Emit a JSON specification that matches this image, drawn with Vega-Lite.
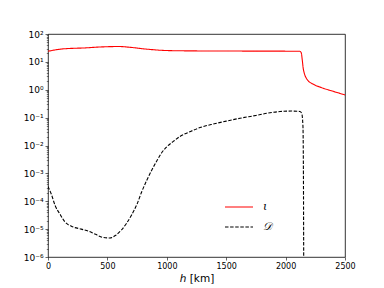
{
  "$schema": "https://vega.github.io/schema/vega-lite/v6.json",
  "width": 297,
  "height": 223,
  "autosize": {"type": "none"},
  "padding": {"left": 48, "top": 34, "right": 39, "bottom": 31},
  "config": {
    "font": "DejaVu Sans",
    "view": {"stroke": "#000000", "strokeWidth": 0.8},
    "axis": {"grid": false, "domain": false, "tickColor": "#000000", "labelColor": "#000000", "titleColor": "#000000", "labelFontSize": 8, "tickWidth": 0.6}
  },
  "datasets": {
    "lines": [
      {"h": 0, "v": 24, "s": "ι"},
      {"h": 100, "v": 28.5, "s": "ι"},
      {"h": 200, "v": 30.5, "s": "ι"},
      {"h": 300, "v": 31.5, "s": "ι"},
      {"h": 400, "v": 33.5, "s": "ι"},
      {"h": 500, "v": 35, "s": "ι"},
      {"h": 600, "v": 35.5, "s": "ι"},
      {"h": 700, "v": 33, "s": "ι"},
      {"h": 800, "v": 29.5, "s": "ι"},
      {"h": 900, "v": 27, "s": "ι"},
      {"h": 1000, "v": 25.5, "s": "ι"},
      {"h": 1200, "v": 24.8, "s": "ι"},
      {"h": 1500, "v": 24.5, "s": "ι"},
      {"h": 1800, "v": 24.3, "s": "ι"},
      {"h": 2000, "v": 24.2, "s": "ι"},
      {"h": 2120, "v": 24, "s": "ι"},
      {"h": 2132, "v": 21, "s": "ι"},
      {"h": 2140, "v": 12, "s": "ι"},
      {"h": 2148, "v": 6, "s": "ι"},
      {"h": 2158, "v": 3.8, "s": "ι"},
      {"h": 2170, "v": 2.8, "s": "ι"},
      {"h": 2190, "v": 2.1, "s": "ι"},
      {"h": 2230, "v": 1.6, "s": "ι"},
      {"h": 2300, "v": 1.2, "s": "ι"},
      {"h": 2400, "v": 0.88, "s": "ι"},
      {"h": 2500, "v": 0.65, "s": "ι"},
      {"h": 0, "v": 0.00034, "s": "𝒟"},
      {"h": 30, "v": 0.00017, "s": "𝒟"},
      {"h": 60, "v": 0.00007, "s": "𝒟"},
      {"h": 100, "v": 0.000035, "s": "𝒟"},
      {"h": 143, "v": 0.000018, "s": "𝒟"},
      {"h": 200, "v": 0.0000125, "s": "𝒟"},
      {"h": 280, "v": 0.00001, "s": "𝒟"},
      {"h": 340, "v": 0.0000085, "s": "𝒟"},
      {"h": 400, "v": 0.0000065, "s": "𝒟"},
      {"h": 466, "v": 0.000005, "s": "𝒟"},
      {"h": 520, "v": 0.0000048, "s": "𝒟"},
      {"h": 570, "v": 0.000006, "s": "𝒟"},
      {"h": 620, "v": 0.0000095, "s": "𝒟"},
      {"h": 660, "v": 0.000016, "s": "𝒟"},
      {"h": 705, "v": 0.000033, "s": "𝒟"},
      {"h": 750, "v": 0.00008, "s": "𝒟"},
      {"h": 789, "v": 0.00022, "s": "𝒟"},
      {"h": 830, "v": 0.00055, "s": "𝒟"},
      {"h": 873, "v": 0.0013, "s": "𝒟"},
      {"h": 920, "v": 0.003, "s": "𝒟"},
      {"h": 957, "v": 0.0055, "s": "𝒟"},
      {"h": 1000, "v": 0.009, "s": "𝒟"},
      {"h": 1055, "v": 0.014, "s": "𝒟"},
      {"h": 1110, "v": 0.021, "s": "𝒟"},
      {"h": 1200, "v": 0.032, "s": "𝒟"},
      {"h": 1280, "v": 0.044, "s": "𝒟"},
      {"h": 1400, "v": 0.06, "s": "𝒟"},
      {"h": 1500, "v": 0.075, "s": "𝒟"},
      {"h": 1616, "v": 0.095, "s": "𝒟"},
      {"h": 1750, "v": 0.12, "s": "𝒟"},
      {"h": 1850, "v": 0.145, "s": "𝒟"},
      {"h": 1953, "v": 0.165, "s": "𝒟"},
      {"h": 2050, "v": 0.172, "s": "𝒟"},
      {"h": 2120, "v": 0.166, "s": "𝒟"},
      {"h": 2136, "v": 0.14, "s": "𝒟"},
      {"h": 2146, "v": 0.05, "s": "𝒟"},
      {"h": 2150, "v": 0.001, "s": "𝒟"},
      {"h": 2153, "v": 0.0000001, "s": "𝒟"}
    ]
  },
  "data": {"name": "lines"},
  "layer": [
    {
      "mark": {"type": "line", "clip": true, "strokeWidth": 1.1, "interpolate": "monotone"},
      "encoding": {
        "x": {
          "field": "h", "type": "quantitative",
          "scale": {"domain": [0, 2500], "nice": false, "zero": false},
          "axis": {"values": [0, 500, 1000, 1500, 2000, 2500], "format": "d", "title": "ℎ [km]", "titleFontSize": 10.5, "titleFontWeight": "normal", "titlePadding": 3, "tickSize": 3, "labelPadding": 2, "labelFlush": false}
        },
        "y": {
          "field": "v", "type": "quantitative",
          "scale": {"type": "log", "domain": [0.000001, 100], "nice": false},
          "axis": {
            "values": [0.000001, 0.00001, 0.0001, 0.001, 0.01, 0.1, 1, 10, 100],
            "labelExpr": "['10⁻⁶','10⁻⁵','10⁻⁴','10⁻³','10⁻²','10⁻¹','10⁰','10¹','10²'][round(log(datum.value)/LN10)+6]",
            "labelFontSize": 9,
            "title": null, "tickSize": 3, "labelPadding": 2, "labelFlush": false
          }
        },
        "color": {
          "field": "s", "type": "nominal",
          "scale": {"domain": ["ι", "𝒟"], "range": ["#ff0000", "#000000"]},
          "legend": {"title": null, "orient": "none", "legendX": 176, "legendY": 158, "symbolType": "stroke", "symbolSize": 784, "symbolStrokeWidth": 1.1, "labelFontSize": 11, "labelOffset": 9, "rowPadding": -8, "labelFont": "DejaVu Serif", "labelFontStyle": "italic"}
        },
        "strokeDash": {
          "field": "s", "type": "nominal",
          "scale": {"domain": ["ι", "𝒟"], "range": [[1, 0], [3.5, 1.6]]},
          "legend": {"title": null, "orient": "none", "legendX": 176, "legendY": 158, "symbolType": "stroke", "symbolSize": 784, "symbolStrokeWidth": 1.1, "labelFontSize": 11, "labelOffset": 9, "rowPadding": -8, "labelFont": "DejaVu Serif", "labelFontStyle": "italic"}
        }
      }
    },
    {
      "mark": {"type": "line", "opacity": 0},
      "encoding": {
        "x": {"field": "h", "type": "quantitative"},
        "y": {
          "field": "v", "type": "quantitative",
          "axis": {
            "orient": "left",
            "values": [0.000002,0.000003,0.000004,0.000005,0.000006,0.000007,0.000008,0.000009,
                       0.00002,0.00003,0.00004,0.00005,0.00006,0.00007,0.00008,0.00009,
                       0.0002,0.0003,0.0004,0.0005,0.0006,0.0007,0.0008,0.0009,
                       0.002,0.003,0.004,0.005,0.006,0.007,0.008,0.009,
                       0.02,0.03,0.04,0.05,0.06,0.07,0.08,0.09,
                       0.2,0.3,0.4,0.5,0.6,0.7,0.8,0.9,
                       2,3,4,5,6,7,8,9,
                       20,30,40,50,60,70,80,90],
            "labels": false, "title": null, "tickSize": 1.7, "tickWidth": 0.5
          }
        }
      }
    }
  ],
  "resolve": {"axis": {"y": "independent"}}
}
